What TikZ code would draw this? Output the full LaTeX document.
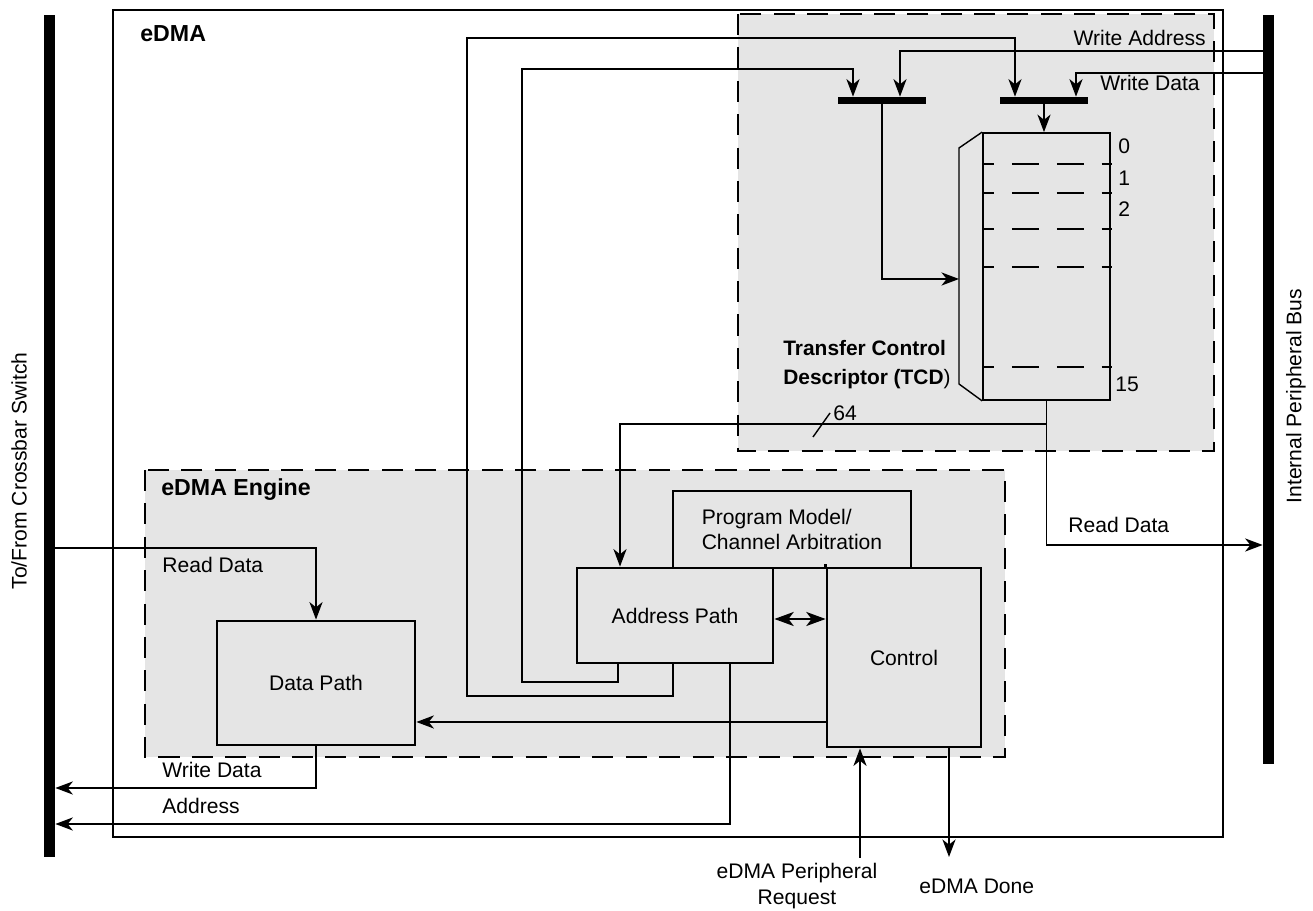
\documentclass[tikz,border=0pt]{standalone}
\usepackage{fontspec}
\setmainfont{Liberation Sans}
\usepackage{xcolor}
\usetikzlibrary{arrows.meta}
\definecolor{edmagray}{gray}{0.90}
\tikzset{
  sig/.style={line width=0.8pt},
  arr/.style={sig, -{Stealth[length=10pt,width=7.5pt,inset=3pt]}},
  dblarr/.style={line width=1.2pt, {Stealth[length=11pt,width=8pt,inset=3pt]}-{Stealth[length=11pt,width=8pt,inset=3pt]}},
  blk/.style={draw, line width=1.6pt, fill=edmagray, inner sep=0pt, align=center},
  region/.style={draw, line width=1.3pt, dash pattern=on 12pt off 7pt, fill=edmagray},
  regline/.style={sig, dash pattern=on 15.3pt off 10.2pt, dash phase=8.5pt},
  busbar/.style={fill=black, inner sep=0pt},
  lbl/.style={inner sep=0pt},
  ttl/.style={inner sep=0pt, font=\fontsize{13.2}{15}\selectfont\bfseries},
  tcdttl/.style={inner sep=0pt, font=\fontsize{11.9}{14}\selectfont\bfseries},
}

\begin{document}
\begin{tikzpicture}[x=0.02cm, y=-0.02cm, font=\fontsize{12}{14}\selectfont]
			\def\px{0.02cm}
			\useasboundingbox (0,0) rectangle (1313,911);

			% shaded regions and eDMA block
			\draw[region] (738,14) rectangle (1214,451);
			\draw[region] (145,470) rectangle (1005,757);
			\draw[line width=0.9pt] (113,10) rectangle (1223,837);

			% buses
			\node[busbar, minimum width=11*\px, minimum height=842*\px] (lbus) at (49.5,436) {};
			\node[busbar, minimum width=11*\px, minimum height=749*\px] (rbus) at (1268.5,389.5) {};

			% engine blocks
			\node[blk, minimum width=238*\px, minimum height=77*\px, align=left] (pm) at (792,529.5) {Program Model/\\Channel Arbitration};
			\node[blk, minimum width=196*\px, minimum height=95*\px] (ap) at (675,615.5) {Address Path};
			\node[blk, minimum width=154*\px, minimum height=179*\px] (ctl) at (904,657.5) {Control};
			\node[blk, minimum width=198*\px, minimum height=124*\px] (dp) at (316,683) {Data Path};
			\draw[line width=1.6pt] (ctl.north west) -- ++(0,-3);

			% TCD
			\node[draw, line width=1pt, inner sep=0pt, minimum width=127*\px, minimum height=267*\px] (tcd) at (1046.5,266.5) {};
			\node[busbar, minimum width=88*\px, minimum height=7*\px] (wabar) at (882,100.5) {};
			\node[busbar, minimum width=88*\px, minimum height=7*\px] (wdbar) at (1044,100.5) {};
			\foreach \yy in {164,193,229,267,367}
				\draw[regline] (tcd.west |- 0,\yy) -- (1112,\yy);
			\draw[sig] (tcd.north west) -- (959,148) -- (959,384) -- (tcd.south west);
			\coordinate (brk) at (959,279);

			% writes into TCD
			\draw[arr] (ap.south -| 673,0) -- (673,696) -- (467,696) -- (467,38) -- (1015,38) -- (wdbar.north -| 1015,0);
			\draw[arr] (ap.south -| 618,0) -- (618,682) -- (522,682) -- (522,69) -- (853,69) -- (wabar.north -| 853,0);
			\draw[arr] (rbus.west |- 0,51) -- (900,51) -- (wabar.north -| 900,0);
			\draw[arr] (rbus.west |- 0,73) -- (1076,73) -- (wdbar.north -| 1076,0);
			\draw[arr] (wdbar.south) -- (wdbar.south |- tcd.north);
			\draw[arr] (wabar.south) -- (wabar.south |- brk) -- (brk);

			% TCD out
			\draw[arr] (tcd.south) -- (tcd.south |- 0,545) -- (rbus.west |- 0,545);
			\draw[arr] (tcd.south |- 0,424) -- (620,424) -- (ap.north -| 620,0);
			\draw[sig] (813,437) -- (830,413);

			% engine paths
			\draw[arr] (lbus.east |- 0,548) -- (dp.north |- 0,548) -- (dp.north);
			\draw[arr] (ctl.west |- 0,722) -- (dp.east |- 0,722);
			\draw[dblarr] (ap.east |- 0,619) -- (ctl.west |- 0,619);
			\draw[arr] (dp.south) -- (dp.south |- 0,788) -- (lbus.east |- 0,788);
			\draw[arr] (ap.south -| 730,0) -- (730,824) -- (lbus.east |- 0,824);
			\coordinate (preq) at (860,858);
			\coordinate (done) at (949,857);
			\draw[arr] (preq) -- (ctl.south -| preq);
			\draw[arr] (ctl.south -| done) -- (done);

			% labels
			\node[ttl, anchor=base west] (edma) at (140,42) {eDMA};
			\node[ttl, anchor=base west] (engine) at (161,496) {eDMA Engine};
			\node[tcdttl, anchor=base west] (tcdname) at (783,356) {Transfer Control};
			\node[tcdttl, anchor=base west] (tcdname2) at (783,385) {Descriptor (TCD\mdseries)};
			\node[lbl, anchor=base east] (waddr) at (1206,46) {Write Address};
			\node[lbl, anchor=base east] (wdata) at (1200,91) {Write Data};
			\node[lbl, anchor=base west] (r0) at (1118,154) {0};
			\node[lbl, anchor=base west] (r1) at (1118,186) {1};
			\node[lbl, anchor=base west] (r2) at (1118,217) {2};
			\node[lbl, anchor=base west] (r15) at (1115,392) {15};
			\node[lbl, anchor=base west] (w64) at (833,421) {64};
			\node[lbl, anchor=base west] (rdr) at (1068,533) {Read Data};
			\node[lbl, anchor=base west] (rdl) at (162,573) {Read Data};
			\node[lbl, anchor=base west] (wdl) at (162,778) {Write Data};
			\node[lbl, anchor=base west] (adl) at (162,814) {Address};
			\node[lbl, anchor=base] (preqa) at (797,879) {eDMA Peripheral};
			\node[lbl, anchor=base] (preqb) at (797,905) {Request};
			\node[lbl, anchor=base west] (donel) at (919,894) {eDMA Done};
			\node[lbl, rotate=90] (xbar) at (19,471) {To/From Crossbar Switch};
			\node[lbl, rotate=90] (ipbus) at (1296,396) {Internal Peripheral Bus};
		\end{tikzpicture}
\end{document}
